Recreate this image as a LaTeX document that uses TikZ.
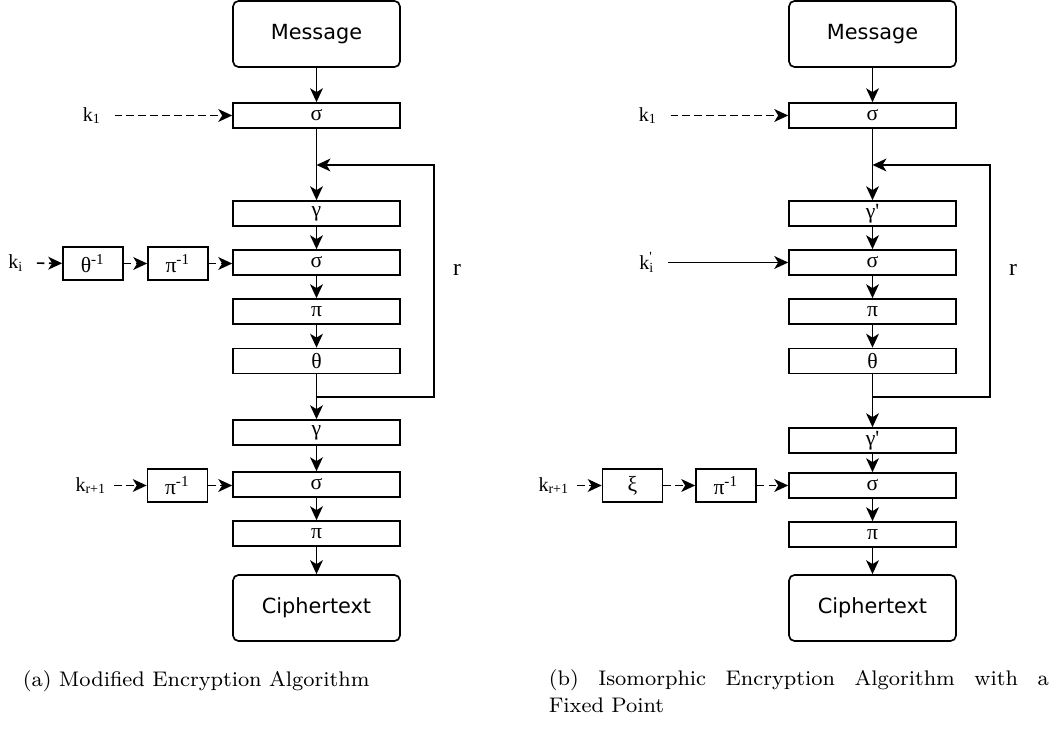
\documentclass[tikz,border=0pt]{standalone}
\usepackage{fontspec}
\newfontfamily\diasans{DejaVu Sans}
\newfontfamily\diaserif{Liberation Serif}
\usetikzlibrary{arrows.meta}
\newcommand{\invop}[1]{#1\textsuperscript{-1}}

\begin{document}
\begin{tikzpicture}[x=0.36pt,y=-0.36pt,line width=0.6pt,line join=miter,
  >={Stealth[length=5pt,width=4.6pt,inset=1.4pt]},
  endbox/.style={draw,rounded corners=2pt,minimum width=60.1pt,minimum height=23.8pt,inner sep=0pt,font=\fontsize{7.5}{9}\diasans},
  opbox/.style={draw,minimum width=60.1pt,minimum height=9pt,inner sep=0pt,font=\fontsize{7.8}{9}\diaserif},
  keybox/.style={draw,minimum width=21.6pt,minimum height=11.9pt,inner sep=0pt,font=\fontsize{7.8}{9}\diaserif},
  keylbl/.style={inner sep=0.5pt,font=\fontsize{7.2}{8}\diaserif},
  caption/.style={inner sep=0pt,font=\fontsize{7.6}{9.4}\selectfont},
  dsh/.style={->,dash pattern=on 2.7pt off 1.6pt}]
\useasboundingbox (0,0) rectangle (1064,742);
%% (a) modified algorithm
\node (msgA) at (316.5,34) [endbox] {Message};
\node (s1A) at (316.5,115.5) [opbox] {σ};
\node (gA) at (316.5,213.5) [opbox] {γ};
\node (sA) at (316.5,262.5) [opbox] {σ};
\node (pA) at (316.5,311.5) [opbox] {π};
\node (tA) at (316.5,361) [opbox] {θ};
\node (g2A) at (316.5,432.5) [opbox] {γ};
\node (s2A) at (316.5,484.5) [opbox] {σ};
\node (p2A) at (316.5,533.5) [opbox] {π};
\node (ctA) at (316.5,608) [endbox] {Ciphertext};
\node (k1A) at (92,115.5) [keylbl] {k\textsubscript{1}};
\node (kiA) at (16,263) [keylbl] {k\textsubscript{i}};
\node (th1A) at (93,263.5) [keybox] {\invop{θ}};
\node (pi1A) at (178,263.5) [keybox] {\invop{π}};
\node (kr1A) at (91,485.5) [keylbl] {k\textsubscript{r+1}};
\node (pi2A) at (177.5,485.5) [keybox] {\invop{π}};
\node (rA) at (457,270) [keylbl,font=\fontsize{8.5}{9}\diaserif] {r};
\coordinate (inA) at (316.5,165);
\coordinate (outA) at (316.5,397);
\coordinate (cnA) at (434,165);
%
\draw [->] (msgA) -- (s1A);
\draw [->] (s1A) -- (gA);
\draw [->] (gA) -- (sA);
\draw [->] (sA) -- (pA);
\draw [->] (pA) -- (tA);
\draw [->] (tA) -- (g2A);
\draw [->] (g2A) -- (s2A);
\draw [->] (s2A) -- (p2A);
\draw [->] (p2A) -- (ctA);
\draw [->] (outA) -| (cnA) -- (inA);
\draw [dsh,shorten <=4pt] (k1A) -- (s1A);
\draw [dsh,shorten <=4pt] (kiA) -- (th1A);
\draw [dsh] (th1A) -- (pi1A);
\draw [dsh] (pi1A) -- (sA.west |- pi1A);
\draw [dsh,shorten <=2pt] (kr1A) -- (pi2A);
\draw [dsh] (pi2A) -- (s2A.west |- pi2A);
%% (b) isomorphic algorithm
\node (msgB) at (872.5,34) [endbox] {Message};
\node (s1B) at (872.5,115.5) [opbox] {σ};
\node (gB) at (872.5,213.5) [opbox] {γ'};
\node (sB) at (872.5,262.5) [opbox] {σ};
\node (pB) at (872.5,311.5) [opbox] {π};
\node (tB) at (872.5,361) [opbox] {θ};
\node (g2B) at (872.5,440.5) [opbox] {γ'};
\node (s2B) at (872.5,485.5) [opbox] {σ};
\node (p2B) at (872.5,534.5) [opbox] {π};
\node (ctB) at (872.5,608) [endbox] {Ciphertext};
\node (k1B) at (648,115.5) [keylbl] {k\textsubscript{1}};
\node (kiB) at (647,262.5) [keylbl] {k\rlap{\textsuperscript{'}}\textsubscript{i}};
\node (kr1B) at (554,485.5) [keylbl] {k\textsubscript{r+1}};
\node (xiB) at (632.5,485.5) [keybox] {ξ};
\node (pi2B) at (726,485.5) [keybox] {\invop{π}};
\node (rB) at (1013,270) [keylbl,font=\fontsize{8.5}{9}\diaserif] {r};
\coordinate (inB) at (872.5,165);
\coordinate (outB) at (872.5,397);
\coordinate (cnB) at (990,165);
%
\draw [->] (msgB) -- (s1B);
\draw [->] (s1B) -- (gB);
\draw [->] (gB) -- (sB);
\draw [->] (sB) -- (pB);
\draw [->] (pB) -- (tB);
\draw [->] (tB) -- (g2B);
\draw [->] (g2B) -- (s2B);
\draw [->] (s2B) -- (p2B);
\draw [->] (p2B) -- (ctB);
\draw [->] (outB) -| (cnB) -- (inB);
\draw [dsh,shorten <=4pt] (k1B) -- (s1B);
\draw [->,shorten <=4pt] (kiB) -- (sB);
\draw [dsh,shorten <=2pt] (kr1B) -- (xiB);
\draw [dsh] (xiB) -- (pi2B);
\draw [dsh] (pi2B) -- (s2B);
%% captions
\node (capA) at (22,686) [caption,anchor=base west] {(a) Modified Encryption Algorithm};
\node (capB) at (548,712) [caption,anchor=base west,align=left] {\makebox[180pt][s]{(b) Isomorphic Encryption Algorithm with a}\\Fixed Point};
\end{tikzpicture}
\end{document}
